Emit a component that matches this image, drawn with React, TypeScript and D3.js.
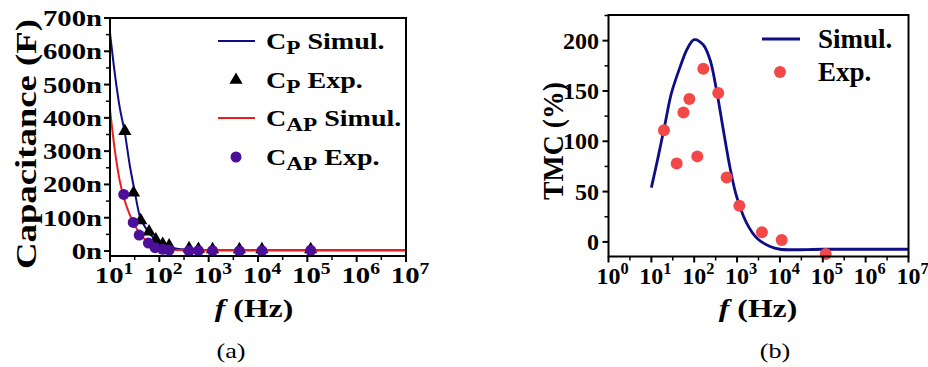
import * as d3 from "d3"
import type { ReactNode } from "react"

// ---- panel (a): capacitance vs frequency (values in nF) ----
const simFreqA = [10, 12.6, 15.8, 20, 25, 31.6, 40, 50, 63, 80, 100, 130, 160, 200, 300, 500, 1000, 1e4, 1e5, 1e6, 1e7]
const cpSim = [655, 530, 430, 355, 260, 180, 105, 75, 53, 37, 26, 17, 12, 8, 5, 3, 2, 2, 2, 2, 2]
const capSim = [425, 300, 210, 150, 110, 78, 52, 36, 25, 16, 11, 7, 5, 4, 3, 2, 2, 2, 2, 2, 2]

const cpExpFreq = [20, 30, 42, 62, 85, 117, 158, 400, 620, 1200, 4200, 12000, 117000]
const cpExp = [360, 175, 92, 58, 34, 21, 16, 8, 6, 5, 5, 5, 5]
const capExpFreq = [19, 29.6, 39, 60, 82, 117, 158, 400, 620, 1200, 4200, 12000, 117000]
const capExp = [170, 86, 48, 24, 10, 5, 3, 0, 1, 1, 0, 1, 2]

const capTicks = [0, 100, 200, 300, 400, 500, 600, 700]

// ---- panel (b): TMC vs frequency ----
const simFreqB = [10, 14.5, 21, 29.5, 47, 69, 100, 162, 234, 331, 479, 676, 977, 1660, 2880, 5890, 10000, 1e5, 1e6, 1e7]
const tmcSim = [54, 85, 118, 148, 174, 192, 201, 196, 181, 151, 111, 75, 45, 19, 4, -4.6, -7.3, -7.3, -7.3, -7.3]
const tmcExpFreq = [19.7, 39, 56, 77, 118, 163, 364, 570, 1130, 3800, 11000, 117000]
const tmcExp = [111, 78, 128.5, 142, 85, 172, 148, 64, 36, 9.6, 2, -12]

const tmcTicks = [0, 50, 100, 150, 200]

const FONT = "'Liberation Serif', 'Times New Roman', serif"
const NAVY = "#0d0d85"
const RED = "#ee1c1c"
const PURPLE = "#4b0f99"
const SALMON = "#f24848"

// horizontal text, stretched sideways like the source figure
function HText({ x, y, sx = 1, size, anchor = "start", bold = true, children }: {
  x: number; y: number; sx?: number; size: number; anchor?: string; bold?: boolean; children: ReactNode
}) {
  return (
    <g transform={`translate(${x},${y}) scale(${sx},1)`}>
      <text textAnchor={anchor} fontFamily={FONT} fontWeight={bold ? "bold" : "normal"} fontSize={size}>
        {children}
      </text>
    </g>
  )
}

function Frame({ x0, x1, y0, y1 }: { x0: number; x1: number; y0: number; y1: number }) {
  return <rect x={x0} y={y0} width={x1 - x0} height={y1 - y0} fill="none" stroke="#000" strokeWidth={2} />
}

function LogXAxis({ x, y, lo, hi, size, sx }: {
  x: d3.ScaleLogarithmic<number, number>; y: number; lo: number; hi: number; size: number; sx: number
}) {
  const decades = d3.range(lo, hi + 1)
  const minors = d3.range(lo, hi).map((d) => d + 0.5)
  return (
    <g>
      {decades.map((d) => (
        <line key={"M" + d} x1={x(10 ** d)} x2={x(10 ** d)} y1={y} y2={y + 6} stroke="#000" strokeWidth={2} />
      ))}
      {minors.map((d) => (
        <line key={"m" + d} x1={x(10 ** d)} x2={x(10 ** d)} y1={y} y2={y + 4} stroke="#000" strokeWidth={1.5} />
      ))}
      {decades.map((d) => (
        <HText key={"t" + d} x={x(10 ** d) + 4} y={y + 27} sx={sx} size={size} anchor="middle">
          10<tspan dy={-size * 0.4} fontSize={size * 0.68}>{d}</tspan>
        </HText>
      ))}
    </g>
  )
}

function PanelA() {
  const x = d3.scaleLog().domain([10, 1e7]).range([110, 406])
  const y = d3.scaleLinear().domain([-15, 700]).range([256, 18])
  const line = d3
    .line<number>()
    .x((_, i) => x(simFreqA[i]))
    .y((d) => y(d))
    .curve(d3.curveMonotoneX)
  const tri = d3.symbol().type(d3.symbolTriangle).size(75)()
  const minorY = d3.range(50, 700, 100)
  const SX = 1.25
  return (
    <g>
      <defs>
        <clipPath id="clipA">
          <rect x={110} y={18} width={296} height={238} />
        </clipPath>
      </defs>
      <g clipPath="url(#clipA)">
        <path d={line(cpSim) ?? ""} fill="none" stroke={NAVY} strokeWidth={2} />
        <path d={line(capSim) ?? ""} fill="none" stroke={RED} strokeWidth={2} />
      </g>
      {cpExp.map((v, i) => (
        <path key={"tp" + i} d={tri ?? ""} transform={`translate(${x(cpExpFreq[i])},${y(v)})`} fill="#000" />
      ))}
      {capExp.map((v, i) => (
        <circle key={"ca" + i} cx={x(capExpFreq[i])} cy={y(v)} r={5.5} fill={PURPLE} />
      ))}
      <Frame x0={110} x1={406} y0={18} y1={256} />
      {capTicks.map((t) => (
        <g key={t}>
          <line x1={104} x2={110} y1={y(t)} y2={y(t)} stroke="#000" strokeWidth={2} />
          <HText x={102} y={y(t) + 8} sx={SX} size={23} anchor="end">
            {t}n
          </HText>
        </g>
      ))}
      {minorY.map((t) => (
        <line key={"my" + t} x1={106} x2={110} y1={y(t)} y2={y(t)} stroke="#000" strokeWidth={1.5} />
      ))}
      <LogXAxis x={x} y={256} lo={1} hi={7} size={23} sx={SX} />
      <text
        transform="translate(36,144) rotate(-90)"
        textAnchor="middle"
        fontFamily={FONT}
        fontWeight="bold"
        fontSize={30}
        textLength={250}
        lengthAdjust="spacingAndGlyphs"
      >
        Capacitance (F)
      </text>
      <HText x={254} y={317} sx={1.22} size={26} anchor="middle">
        <tspan fontStyle="italic">f</tspan> (Hz)
      </HText>
      <HText x={231} y={358} sx={1.25} size={21} anchor="middle" bold={false}>
        (a)
      </HText>
      {/* legend */}
      <line x1={218} x2={255} y1={41} y2={41} stroke={NAVY} strokeWidth={2} />
      <HText x={266} y={49} sx={1.22} size={23}>
        C<tspan dy={5} fontSize={19}>P</tspan>
        <tspan dy={-5}> Simul.</tspan>
      </HText>
      <path d={tri ?? ""} transform="translate(236,80)" fill="#000" />
      <HText x={266} y={88} sx={1.22} size={23}>
        C<tspan dy={5} fontSize={19}>P</tspan>
        <tspan dy={-5}> Exp.</tspan>
      </HText>
      <line x1={218} x2={255} y1={118} y2={118} stroke={RED} strokeWidth={2} />
      <HText x={266} y={126} sx={1.22} size={23}>
        C<tspan dy={5} fontSize={19}>AP</tspan>
        <tspan dy={-5}> Simul.</tspan>
      </HText>
      <circle cx={236} cy={157} r={5.5} fill={PURPLE} />
      <HText x={266} y={165} sx={1.22} size={23}>
        C<tspan dy={5} fontSize={19}>AP</tspan>
        <tspan dy={-5}> Exp.</tspan>
      </HText>
    </g>
  )
}

function PanelB() {
  const x = d3.scaleLog().domain([1, 1e7]).range([608.5, 908.5])
  const y = d3.scaleLinear().domain([-14.5, 225.5]).range([256.5, 15])
  const line = d3
    .line<number>()
    .x((_, i) => x(simFreqB[i]))
    .y((d) => y(d))
    .curve(d3.curveCatmullRom.alpha(0.5))
  const minorY = d3.range(25, 226, 50)
  return (
    <g>
      <path d={line(tmcSim) ?? ""} fill="none" stroke={NAVY} strokeWidth={2.8} />
      {tmcExp.map((v, i) => (
        <circle key={"e" + i} cx={x(tmcExpFreq[i])} cy={y(v)} r={6} fill={SALMON} />
      ))}
      <Frame x0={608.5} x1={908.5} y0={15} y1={256.5} />
      {tmcTicks.map((t) => (
        <g key={t}>
          <line x1={602.5} x2={608.5} y1={y(t)} y2={y(t)} stroke="#000" strokeWidth={2} />
          <HText x={599} y={y(t) + 8} size={24} anchor="end">
            {t}
          </HText>
        </g>
      ))}
      {minorY.map((t) => (
        <line key={"my" + t} x1={604.5} x2={608.5} y1={y(t)} y2={y(t)} stroke="#000" strokeWidth={1.5} />
      ))}
      <LogXAxis x={x} y={256.5} lo={0} hi={7} size={24} sx={1} />
      <text
        transform="translate(563,141) rotate(-90)"
        textAnchor="middle"
        fontFamily={FONT}
        fontWeight="bold"
        fontSize={30}
        textLength={118}
        lengthAdjust="spacingAndGlyphs"
      >
        TMC (%)
      </text>
      <HText x={758} y={317} sx={1.22} size={26} anchor="middle">
        <tspan fontStyle="italic">f</tspan> (Hz)
      </HText>
      <HText x={775} y={358} sx={1.25} size={21} anchor="middle" bold={false}>
        (b)
      </HText>
      <line x1={762} x2={800} y1={39} y2={39} stroke={NAVY} strokeWidth={2.8} />
      <HText x={818} y={48} size={27}>Simul.</HText>
      <circle cx={780} cy={72} r={6} fill={SALMON} />
      <HText x={818} y={81} size={27}>Exp.</HText>
    </g>
  )
}

export default function App() {
  return (
    <svg width={928} height={367} style={{ position: "absolute", left: 0, top: 0, display: "block", background: "#fff" }}>
      <PanelA />
      <PanelB />
    </svg>
  )
}
